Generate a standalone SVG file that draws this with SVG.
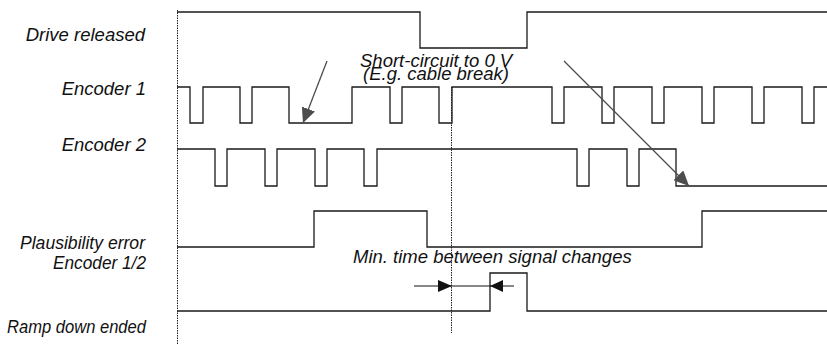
<svg xmlns="http://www.w3.org/2000/svg" width="827" height="344" viewBox="0 0 827 344">
<defs>
<style>
.sig{fill:none;stroke:#1a1a1a;stroke-width:1.3}
.dot{fill:none;stroke:#222;stroke-width:1;stroke-dasharray:1.5 1}
.lbl{font-family:"Liberation Sans",Arial,sans-serif;font-style:italic;font-size:18.5px;fill:#111}
.gray{fill:none;stroke:#4d4d4d;stroke-width:1.3}
.dim{fill:none;stroke:#111;stroke-width:1.2}
</style>
<marker id="ga" markerUnits="userSpaceOnUse" markerWidth="16" markerHeight="14" refX="15" refY="7" orient="auto">
<path d="M0,0 L15,7 L0,14 Z" fill="#4d4d4d"/>
</marker>
</defs>
<rect width="827" height="344" fill="#fff"/>
<g id="labels">
<text class="lbl" x="145" y="40.5" text-anchor="end">Drive released</text>
<text class="lbl" x="146" y="95" text-anchor="end">Encoder 1</text>
<text class="lbl" x="146" y="150.5" text-anchor="end">Encoder 2</text>
<text class="lbl" x="145" y="249" text-anchor="end" textLength="125" lengthAdjust="spacingAndGlyphs">Plausibility error</text>
<text class="lbl" x="146" y="269" text-anchor="end" textLength="93" lengthAdjust="spacingAndGlyphs">Encoder 1/2</text>
<text class="lbl" x="146" y="333" text-anchor="end" textLength="139" lengthAdjust="spacingAndGlyphs">Ramp down ended</text>
</g>
<g id="markers">
<line class="dot" x1="177.5" y1="10" x2="177.5" y2="344"/>
<line class="dot" x1="451.5" y1="87" x2="451.5" y2="333"/>
</g>
<g id="drive-released">
<path class="sig" d="M177,12 H420 V48 H527 V12 H827"/>
</g>
<g id="encoder-1">
<path class="sig" d="M177,87 H190 V123 H203 V87 H240 V123 H252 V87 H289 V123 H352 V87 H390 V123 H402 V87 H439 V123 H452 V87 H552 V123 H564 V87 H602 V123 H614 V87 H652 V123 H664 V87 H702 V123 H714 V87 H752 V123 H764 V87 H802 V123 H814 V87 H827"/>
</g>
<g id="encoder-2">
<path class="sig" d="M177,149 H215 V186 H227 V149 H265 V186 H277 V149 H315 V186 H327 V149 H364 V186 H377 V149 H577 V186 H589 V149 H627 V186 H639 V149 H676 V186 H827"/>
</g>
<g id="plausibility-error">
<path class="sig" d="M177,247 H314 V211 H427 V247 H702 V211 H827"/>
</g>
<g id="ramp-down-ended">
<path class="sig" d="M177,311 H490 V273 H527 V311 H827"/>
</g>
<g id="annotations">
<text class="lbl" x="360" y="67">Short-circuit to 0 V</text>
<text class="lbl" x="363" y="79.5">(E.g. cable break)</text>
<text class="lbl" x="353" y="263">Min. time between signal changes</text>
</g>
<g id="connectors">
<line class="gray" x1="327" y1="61" x2="303" y2="123" marker-end="url(#ga)"/>
<line class="gray" x1="564" y1="61" x2="689" y2="186" marker-end="url(#ga)"/>
<line class="dim" x1="414" y1="286" x2="514" y2="286"/>
<path d="M452,286 L438,280 L438,292 Z" fill="#111"/>
<path d="M490,286 L503,280 L503,292 Z" fill="#111"/>
</g>
</svg>
